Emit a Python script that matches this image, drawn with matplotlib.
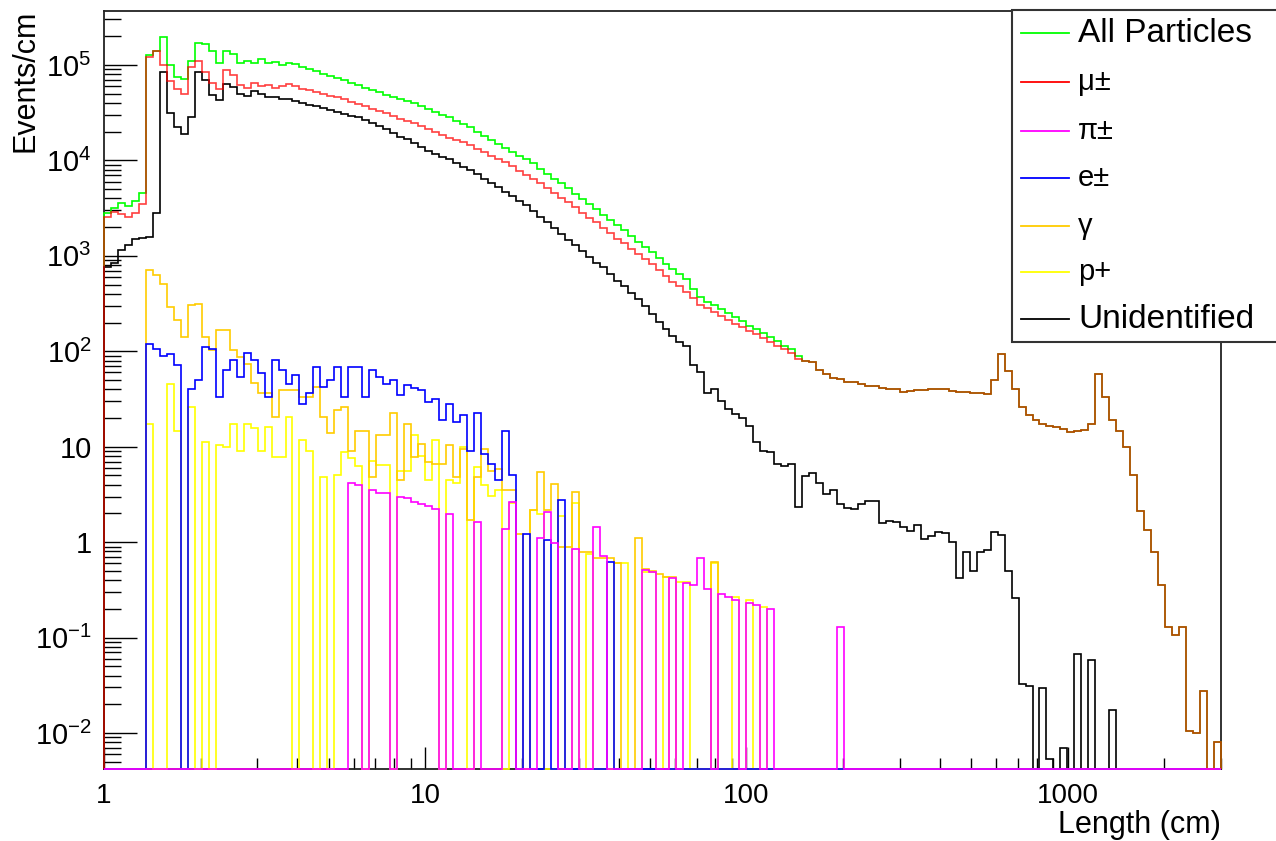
import numpy as np
import matplotlib
matplotlib.use('Agg')
import matplotlib.pyplot as plt
from matplotlib.ticker import FixedLocator, FixedFormatter, LogLocator, NullFormatter
from matplotlib.lines import Line2D
from matplotlib.patches import Rectangle

plt.rcParams['font.family'] = ['Liberation Sans', 'DejaVu Sans']
plt.rcParams['mathtext.fontset'] = 'custom'
plt.rcParams['mathtext.rm'] = 'Liberation Sans'
plt.rcParams['mathtext.it'] = 'Liberation Sans:italic'

# histogram: 160 log-spaced bins from 1 cm to 3000 cm
n_bins = 160
x_lo, x_hi = 1, 3000
y_lo, y_hi = 10 ** -2.377, 10 ** 5.566

# bin contents, stored as log10(events/cm); None = empty bin
all_log = [
    3.45, 3.50, 3.55, 3.52, 3.58, 3.66, 5.11, 5.15, 5.29, 5.00,
    4.87, 4.85, 5.04, 5.23, 5.22, 5.15, 5.02, 5.15, 5.12, 5.02,
    5.04, 5.02, 5.06, 5.02, 5.03, 5.00, 5.02, 5.01, 4.98, 4.96,
    4.94, 4.91, 4.89, 4.86, 4.84, 4.81, 4.79, 4.76, 4.74, 4.72,
    4.69, 4.67, 4.64, 4.62, 4.60, 4.57, 4.54, 4.51, 4.48, 4.45,
    4.41, 4.38, 4.35, 4.30, 4.26, 4.21, 4.17, 4.13, 4.09, 4.05,
    4.01, 3.97, 3.91, 3.86, 3.81, 3.76, 3.71, 3.65, 3.60, 3.54,
    3.49, 3.43, 3.38, 3.32, 3.27, 3.21, 3.15, 3.09, 3.04, 2.98,
    2.92, 2.86, 2.81, 2.76, 2.65, 2.57, 2.52, 2.48, 2.44, 2.40,
    2.36, 2.32, 2.27, 2.23, 2.19, 2.15, 2.11, 2.06, 2.02, 1.95,
    1.90, 1.89, 1.80, 1.76, 1.72, 1.71, 1.68, 1.68, 1.66, 1.64,
    1.64, 1.62, 1.61, 1.61, 1.57, 1.58, 1.59, 1.59, 1.60, 1.61,
    1.60, 1.58, 1.57, 1.57, 1.56, 1.56, 1.55, 1.70, 1.97, 1.79,
    1.60, 1.42, 1.33, 1.28, 1.24, 1.22, 1.21, 1.19, 1.15, 1.16,
    1.18, 1.24, 1.76, 1.52, 1.28, 1.16, 1.00, 0.70, 0.33, 0.13,
    -0.10, -0.45, -0.89, -0.97, -0.89, -1.98, -2.00, -1.56, None, -2.09,
]

mu_log = [
    3.41, 3.46, 3.44, 3.41, 3.45, 3.54, 5.08, 5.15, 5.00, 4.83,
    4.75, 4.70, 4.98, 5.04, 4.93, 4.81, 4.75, 4.95, 4.90, 4.79,
    4.76, 4.81, 4.78, 4.79, 4.76, 4.78, 4.80, 4.78, 4.75, 4.74,
    4.72, 4.70, 4.68, 4.66, 4.64, 4.61, 4.59, 4.57, 4.54, 4.52,
    4.50, 4.47, 4.43, 4.41, 4.39, 4.36, 4.33, 4.30, 4.27, 4.24,
    4.21, 4.19, 4.16, 4.12, 4.09, 4.05, 4.01, 3.98, 3.94, 3.89,
    3.85, 3.81, 3.76, 3.71, 3.66, 3.61, 3.56, 3.51, 3.45, 3.40,
    3.35, 3.29, 3.24, 3.18, 3.13, 3.07, 3.02, 2.97, 2.91, 2.85,
    2.79, 2.73, 2.68, 2.62, 2.56, 2.49, 2.45, 2.41, 2.37, 2.33,
    2.29, 2.25, 2.21, 2.18, 2.14, 2.10, 2.06, 2.02, 1.98, 1.92,
    1.90, 1.89, 1.80, 1.76, 1.72, 1.71, 1.68, 1.68, 1.66, 1.64,
    1.64, 1.62, 1.61, 1.61, 1.57, 1.58, 1.59, 1.59, 1.60, 1.61,
    1.60, 1.58, 1.57, 1.57, 1.56, 1.56, 1.55, 1.70, 1.97, 1.79,
    1.60, 1.42, 1.33, 1.28, 1.24, 1.22, 1.21, 1.19, 1.15, 1.16,
    1.18, 1.24, 1.76, 1.52, 1.28, 1.16, 1.00, 0.70, 0.33, 0.13,
    -0.10, -0.45, -0.89, -0.97, -0.89, -1.98, -2.00, -1.56, None, -2.09,
]

unid_log = [
    2.88, 2.93, 3.06, 3.11, 3.18, 3.19, 3.20, 3.45, 4.93, 4.50,
    4.35, 4.28, 4.45, 4.93, 4.84, 4.69, 4.63, 4.80, 4.77, 4.70,
    4.68, 4.73, 4.70, 4.66, 4.66, 4.64, 4.64, 4.62, 4.60, 4.58,
    4.57, 4.55, 4.53, 4.51, 4.49, 4.47, 4.45, 4.42, 4.39, 4.36,
    4.33, 4.29, 4.25, 4.22, 4.18, 4.14, 4.10, 4.07, 4.04, 4.01,
    3.97, 3.93, 3.90, 3.86, 3.81, 3.76, 3.72, 3.67, 3.63, 3.58,
    3.53, 3.47, 3.41, 3.35, 3.29, 3.23, 3.17, 3.11, 3.05, 2.99,
    2.93, 2.88, 2.81, 2.74, 2.68, 2.61, 2.55, 2.47, 2.39, 2.31,
    2.23, 2.16, 2.10, 2.06, 1.86, 1.78, 1.56, 1.60, 1.48, 1.40,
    1.34, 1.30, 1.22, 1.05, 0.96, 0.95, 0.82, 0.80, 0.82, 0.37,
    0.69, 0.72, 0.62, 0.50, 0.55, 0.40, 0.36, 0.35, 0.40, 0.43,
    0.43, 0.20, 0.22, 0.21, 0.16, 0.12, 0.18, 0.03, 0.06, 0.11,
    0.10, 0.00, -0.38, -0.10, -0.30, -0.10, -0.08, 0.11, 0.08, -0.30,
    -0.58, -1.49, -1.51, None, -1.53, -2.27, None, -2.16, None, -1.17,
    None, -1.23, None, None, -1.76, None, None, None, None, None,
    None, None, None, None, None, None, None, None, None, None,
]

gamma_log = [None] * 6 + [
    2.85, 2.80, 2.71, 2.46, 2.33, 2.15, 2.48, 2.50, 2.15, 2.01,
    2.22, 2.22, 2.01, 1.94, 1.87, 1.67, 1.56, 1.56, 1.31, 1.59,
    1.59, 1.59, 1.52, 1.52, 1.63, 1.31, 1.14, 1.38, 1.42, 0.96,
    1.17, 1.17, 0.68, 1.12, 1.12, 1.35, 0.65, 1.24, 0.89, 1.03,
    0.84, 0.82, 0.82, 1.02, 0.68, 0.98, 0.23, 0.68, 0.98, 0.75,
    0.77, 0.55, 0.55, 0.09, None, 0.34, 0.74, 0.34, 0.61, -0.05,
    -0.05, 0.53, -0.10, -0.10, -0.17, -0.17, -0.17, -0.22, None, None,
    0.04, -0.28, -0.30, -0.33, -0.36, -0.36, None, None, None, None,
    None, -0.21,
] + [None] * 72

e_log = [None] * 6 + [
    2.08, 2.02, 1.95, 1.97, 1.86, None, 1.60, 1.70, 2.05, 2.02,
    1.52, 1.80, 1.91, 1.73, 1.98, 1.91, 1.77, 1.52, 1.91, 1.80,
    1.66, 1.75, 1.45, 1.56, 1.84, 1.63, 1.70, 1.84, 1.52, 1.84,
    1.84, 1.52, 1.80, 1.73, 1.66, 1.70, 1.54, 1.65, 1.62, 1.59,
    1.47, 1.50, 1.28, 1.45, 1.26, 1.33, 0.96, 1.35, 0.92, 0.82,
    0.65, 1.17, 0.70, None, 0.09, None, None, 0.02, None, 0.44,
    None, None, None, None, None, None, -0.21,
] + [None] * 87

pi_log = [None] * 35 + [
    0.62, 0.60, None, 0.55, 0.52, 0.51, None, 0.47, 0.46, 0.42,
    0.40, 0.38, 0.35, None, 0.30, None, None, None, 0.21, None,
    None, None, 0.14, 0.42, None, None, None, 0.04, 0.32, -0.01,
    None, None, -0.07, None, None, 0.16, -0.15, None, None, None,
    None, None, -0.29, -0.31, None, None, -0.38, None, -0.43, -0.45,
    -0.17, -0.49, None, -0.54, -0.57, -0.61, None, -0.64, -0.66, None,
    -0.70, None, None, None, None, None, None, None, None, None,
    -0.89,
] + [None] * 54

p_log = [None] * 6 + [
    1.24, None, None, 1.66, 1.16, None, 1.42, None, 1.05, None,
    1.02, 1.00, 1.24, 0.96, 1.24, 1.20, 0.96, 1.21, 0.89, 0.89,
    1.31, None, 1.07, 0.96, None, 0.68, None, 0.70, 0.95, 0.88,
    0.80, None, 0.85, 0.81, 0.81, None, 0.75, 0.75, 1.12, 0.90,
    0.65, 1.07, None, 0.65, 0.62, 1.00, None, 0.79, 0.60, 0.48,
    0.55, None, 0.41, None, None, 0.34, 0.30, None, None, 0.27,
    None, 0.41, None, -0.12, None, None, None, -0.22, -0.22, None,
    None, -0.31, -0.31, None, -0.36, None, -0.42, -0.42, None, None,
    None, -0.22, None, None, -0.57, None, -0.61, None, -0.68,
] + [None] * 65

labels = ['All Particles', 'μ±', 'π±', 'e±', 'γ', 'p+', 'Unidentified']
colors = ['#00ff00', '#ff0000', '#ff00ff', '#0000ff', '#ffcc00', '#ffff00', '#000000']
alphas = [1.0, 0.75, 1.0, 1.0, 1.0, 1.0, 1.0]
series = [all_log, mu_log, pi_log, e_log, gamma_log, p_log, unid_log]
draw_order = [0, 6, 5, 4, 3, 1, 2]


def counts(log_list):
    # empty bins sit on the bottom of the frame, like ROOT does
    return np.array([y_lo if v is None else 10.0 ** v for v in log_list])


fig = plt.figure(figsize=(12.76, 8.41), dpi=100)
ax = fig.add_axes([104 / 1276, 72 / 841, 1117 / 1276, 758 / 841])

edges = np.logspace(np.log10(x_lo), np.log10(x_hi), n_bins + 1)
for i in draw_order:
    ax.stairs(counts(series[i]), edges, baseline=y_lo, color=colors[i], alpha=alphas[i],
              lw=1.2, zorder=3, clip_on=False)

ax.set_xscale('log')
ax.set_yscale('log')
ax.set_xlim(x_lo, x_hi)
ax.set_ylim(y_lo, y_hi)

# ROOT-style axes
ax.xaxis.set_major_locator(FixedLocator([1, 10, 100, 1000]))
ax.xaxis.set_major_formatter(FixedFormatter(['1', '10', '100', '1000']))
ax.xaxis.set_minor_locator(LogLocator(base=10, subs=np.arange(2, 10)))
ax.xaxis.set_minor_formatter(NullFormatter())
ydec = [1e-2, 1e-1, 1, 10, 1e2, 1e3, 1e4, 1e5]
ylab = ['$10^{-2}$', '$10^{-1}$', '1', '10', '$10^{2}$', '$10^{3}$', '$10^{4}$', '$10^{5}$']
ax.yaxis.set_major_locator(FixedLocator(ydec))
ax.yaxis.set_major_formatter(FixedFormatter(ylab))
ax.yaxis.set_minor_locator(LogLocator(base=10, subs=np.arange(2, 10)))
ax.yaxis.set_minor_formatter(NullFormatter())

ax.tick_params(which='both', direction='in', top=False, right=False, color='black')
ax.tick_params(axis='y', which='major', length=24, width=1.0, labelsize=21, pad=9)
ax.tick_params(axis='y', which='minor', length=12, width=1.0)
ax.tick_params(axis='x', which='major', length=16, width=1.0, labelsize=20, pad=10)
ax.tick_params(axis='x', which='minor', length=8, width=1.0)
for s in ax.spines.values():
    s.set_linewidth(1.3)
    s.set_color('#222222')

fig.text(25 / 1276, 1 - 10 / 841, 'Events/cm', rotation=90, ha='center', va='top', fontsize=22)
fig.text(1221 / 1276, 1 - 825 / 841, 'Length (cm)', ha='right', va='center', fontsize=22)

# legend box, running off the right edge like the original
box = Rectangle((1012 / 1276, 1 - 342 / 841), 300 / 1276, 332 / 841, transform=fig.transFigure,
                facecolor='white', edgecolor='#333333', lw=1.5, zorder=10)
fig.add_artist(box)
entry_y = [33, 82, 131, 178, 226, 272, 319]
for lab, col, yy in zip(labels, colors, entry_y):
    fy = 1 - yy / 841
    fig.add_artist(Line2D([1021 / 1276, 1069 / 1276], [fy, fy], transform=fig.transFigure,
                          color=col, lw=1.3, zorder=11))
    size = 24 if len(lab) > 2 else 21
    fig.text(1078 / 1276, fy, lab, ha='left', va='center', fontsize=size, zorder=12)

fig.savefig('out.png', dpi=100)
